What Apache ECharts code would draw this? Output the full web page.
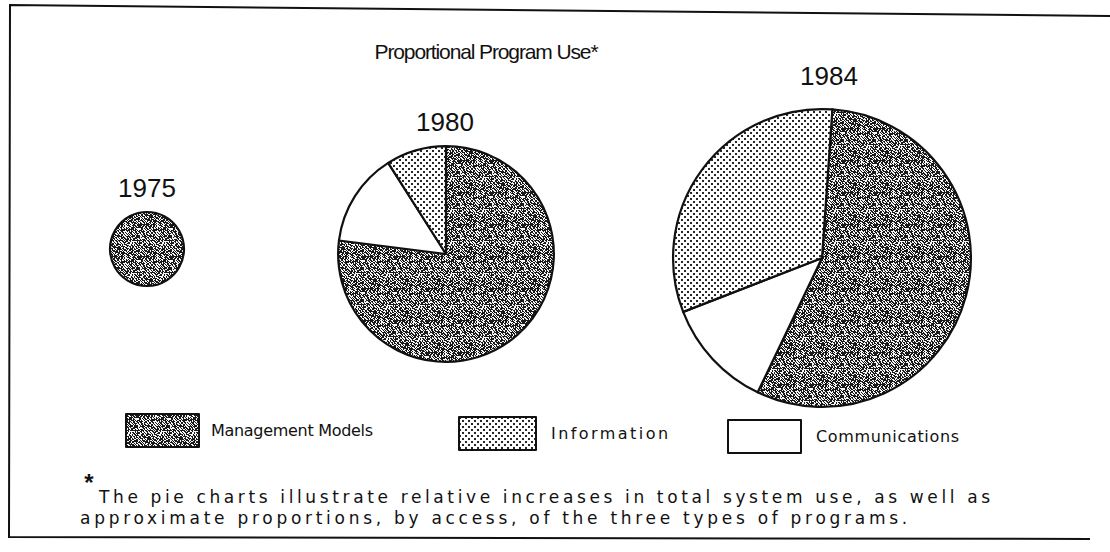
<!DOCTYPE html>
<html><head><meta charset="utf-8">
<script src="https://cdn.jsdelivr.net/npm/echarts@6/dist/echarts.min.js"></script>
<style>html,body{margin:0;padding:0;background:#fff}#chart{width:1110px;height:552px}</style>
</head><body><div id="chart"></div>
<script>
// ---- data ----
const categories = ['Management Models', 'Information', 'Communications'];
const years = ['1975', '1980', '1984'];
const share1975 = [100, 0, 0];
const share1980 = [77, 9, 14];
const share1984 = [56, 32, 12];
const relativeUse = [1, 8.5, 16.2];
const titleText = 'Proportional Program Use*';
const noteLines = [
  'The pie charts illustrate relative increases in total system use, as well as',
  'approximate proportions, by access, of the three types of programs.'
];

// ---- styles ----
const FONT = '"Liberation Sans", Arial, sans-serif';
const WIDE = '"DejaVu Sans", "Liberation Sans", sans-serif';
const INK = '#111';
function hash(x, y, s) {
  let h = Math.imul(x + 17 * s, 374761393) ^ Math.imul(y + 31 * s, 668265263);
  h = Math.imul(h ^ (h >>> 13), 1274126177);
  return ((h ^ (h >>> 16)) >>> 0) / 4294967296;
}
function makeTile(size, fn) {
  const c = document.createElement('canvas');
  c.width = c.height = size;
  const ctx = c.getContext('2d');
  const img = ctx.createImageData(size, size);
  for (let y = 0; y < size; y++) for (let x = 0; x < size; x++) {
    const v = fn(x, y);
    const k = (y * size + x) * 4;
    img.data[k] = img.data[k + 1] = img.data[k + 2] = v; img.data[k + 3] = 255;
  }
  ctx.putImageData(img, 0, 0);
  return { image: c.toDataURL(), repeat: 'repeat', imageWidth: size, imageHeight: size };
}
const mgmtFill = makeTile(32, (x, y) => {
  const diag = ((x - y + 96) % 3 === 0) && hash(x, y, 1) < 0.85;
  const noise = hash(x, y, 2) < 0.42;
  return (diag || noise) ? 25 : 245;
});
const infoFill = makeTile(6, (x, y) => {
  const a = (x % 6 < 2) && (y % 6 < 2);
  const b = ((x + 3) % 6 < 2) && ((y + 3) % 6 < 2);
  return (a || b) ? 40 : 255;
});
const fills = [mgmtFill, infoFill, '#ffffff'];

const pieOrder = [0, 2, 1]; // clockwise: Management, Communications, Information
function pieData(shares) {
  return pieOrder.filter(i => shares[i] > 0).map(i => ({
    name: categories[i], value: shares[i], itemStyle: { color: fills[i] }
  }));
}
const shares = [share1975, share1980, share1984];
const centers = [[147, 249], [446, 254], [822, 258]];
const startAngles = [90, 90, 86];
const yearLabelPos = [[147, 188], [445, 122], [829, 76]];
const baseR = 37;

const series = years.map((yr, k) => ({
  type: 'pie', name: yr, silent: true,
  center: centers[k], radius: baseR * Math.sqrt(relativeUse[k]),
  startAngle: startAngles[k], clockwise: true,
  label: { show: false }, labelLine: { show: false },
  emphasis: { disabled: true },
  itemStyle: { borderColor: INK, borderWidth: 2.2 },
  data: pieData(shares[k])
}));

const legendLeft = [125, 458, 727];
const legendTop = [413, 416, 419];
const legends = categories.map((name, i) => ({
  data: [name], left: legendLeft[i], top: legendTop[i], padding: 0,
  icon: 'rect', itemWidth: i === 1 ? 77 : 73, itemHeight: 33, selectedMode: false,
  itemStyle: { borderColor: INK, borderWidth: 2 },
  textStyle: { fontFamily: WIDE, fontSize: 16, color: INK, padding: [0, 0, 0, i === 0 ? 7 : 10] }
}));

const graphics = [
  { type: 'polyline', silent: true, shape: { points: [[1110, 16], [10, 5], [9, 537], [1090, 539]] },
    style: { stroke: INK, lineWidth: 2, fill: null } },
  { type: 'text', silent: true, x: 486, y: 51,
    style: { text: titleText, font: '21px ' + FONT, fill: INK, align: 'center', verticalAlign: 'middle', textAlign: 'center', textVerticalAlign: 'middle' } },
  { type: 'text', silent: true, x: 89, y: 482,
    style: { text: '*', font: 'bold 24px ' + FONT, fill: INK, align: 'center', verticalAlign: 'middle', textAlign: 'center', textVerticalAlign: 'middle' } },
  { type: 'text', silent: true, x: 99, y: 497,
    style: { text: noteLines[0], font: '17px ' + WIDE, fill: INK, align: 'left', verticalAlign: 'middle', textAlign: 'left', textVerticalAlign: 'middle' } },
  { type: 'text', silent: true, x: 80, y: 518,
    style: { text: noteLines[1], font: '17px ' + WIDE, fill: INK, align: 'left', verticalAlign: 'middle', textAlign: 'left', textVerticalAlign: 'middle' } }
].concat(years.map((yr, k) => ({
  type: 'text', silent: true, x: yearLabelPos[k][0], y: yearLabelPos[k][1],
  style: { text: yr, font: '26px ' + FONT, fill: INK, align: 'center', verticalAlign: 'middle', textAlign: 'center', textVerticalAlign: 'middle' }
})));

const chart = echarts.init(document.getElementById('chart'), null, { renderer: 'svg' });
chart.setOption({
  animation: false,
  backgroundColor: '#ffffff',
  legend: legends,
  series: series,
  graphic: graphics
});

// spread letters like the original lettering
const targetWidths = {};
targetWidths[noteLines[0]] = 891;
targetWidths[noteLines[1]] = 827;
targetWidths['Management Models'] = 162;
targetWidths['Information'] = 117;
targetWidths['Communications'] = 143;
targetWidths[titleText] = 224;
let spaced = false;
function applySpacing() {
  if (spaced) return;
  const texts = document.querySelectorAll('#chart svg text');
  texts.forEach(t => {
    const s = t.textContent;
    if (targetWidths[s] && t.getComputedTextLength) {
      const w = t.getComputedTextLength();
      const ls = (targetWidths[s] - w) / Math.max(1, s.length - 1);
      t.style.letterSpacing = ls.toFixed(2) + 'px';
    }
  });
  spaced = true;
}
chart.on('finished', applySpacing);
setTimeout(applySpacing, 50);
</script></body></html>
